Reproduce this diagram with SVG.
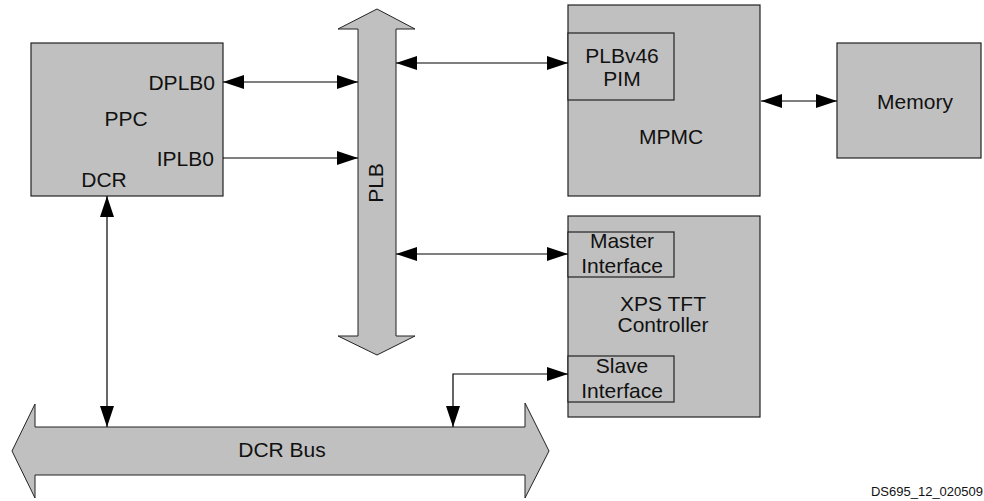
<svg xmlns="http://www.w3.org/2000/svg" width="984" height="501" viewBox="0 0 984 501">
<style>
.box{fill:#c0c0c0;stroke:#222;stroke-width:1.2}
.bus{fill:#c0c0c0;stroke:#222;stroke-width:1}
.t{font-family:"Liberation Sans",Arial,sans-serif;font-size:21px;fill:#111}
.c{text-anchor:middle}
.r{text-anchor:end}
.ln{fill:none;stroke:#000;stroke-width:1.2}
</style>
<defs>
<marker id="ah" markerUnits="userSpaceOnUse" markerWidth="22" markerHeight="14" viewBox="0 0 22 14" refX="21" refY="7" orient="auto-start-reverse">
<path d="M0,0 L21,7 L0,14 Z" fill="#000"/>
</marker>
</defs>
<rect width="984" height="501" fill="#fff"/>
<g id="ppc">
<rect class="box" x="31" y="43" width="192" height="153"/>
<text class="t r" x="215" y="90">DPLB0</text>
<text class="t c" x="126" y="126">PPC</text>
<text class="t r" x="214" y="166">IPLB0</text>
<text class="t c" x="104" y="187">DCR</text>
</g>
<g id="plb">
<path class="bus" d="M377,9 L415,29 L396,29 L396,336 L415,336 L377,355 L338,336 L358,336 L358,29 L338,29 Z"/>
<text class="t c" transform="translate(383,183) rotate(-90)">PLB</text>
</g>
<g id="mpmc">
<rect class="box" x="568" y="5" width="192" height="191"/>
<rect class="box" x="568" y="33" width="106" height="67" fill="none"/>
<text class="t c" x="622" y="63">PLBv46</text>
<text class="t c" x="622" y="86">PIM</text>
<text class="t c" x="671" y="144">MPMC</text>
</g>
<g id="memory">
<rect class="box" x="837" y="43" width="144" height="115"/>
<text class="t c" x="915" y="109">Memory</text>
</g>
<g id="xps">
<rect class="box" x="568" y="216" width="192" height="201"/>
<rect class="box" x="568" y="232" width="106" height="45"/>
<text class="t c" x="622" y="248">Master</text>
<text class="t c" x="622" y="273">Interface</text>
<text class="t c" x="663" y="311">XPS TFT</text>
<text class="t c" x="663" y="332">Controller</text>
<rect class="box" x="568" y="356" width="106" height="46"/>
<text class="t c" x="622" y="373">Slave</text>
<text class="t c" x="622" y="398">Interface</text>
</g>
<g id="dcrbus">
<path class="bus" d="M12,451 L35,404 L35,427 L525,427 L525,403 L549,451 L525,498 L525,475 L35,475 L35,498 Z"/>
<text class="t c" x="282" y="457">DCR Bus</text>
</g>
<g id="connectors">
<line class="ln" x1="223" y1="82" x2="358" y2="82" marker-start="url(#ah)" marker-end="url(#ah)"/>
<line class="ln" x1="223" y1="158" x2="358" y2="158" marker-end="url(#ah)"/>
<line class="ln" x1="396" y1="63" x2="568" y2="63" marker-start="url(#ah)" marker-end="url(#ah)"/>
<line class="ln" x1="761" y1="101" x2="837" y2="101" marker-start="url(#ah)" marker-end="url(#ah)"/>
<line class="ln" x1="396" y1="254" x2="568" y2="254" marker-start="url(#ah)" marker-end="url(#ah)"/>
<polyline class="ln" points="453,427 453,374 568,374" marker-start="url(#ah)" marker-end="url(#ah)"/>
<line class="ln" x1="107" y1="196" x2="107" y2="427" marker-start="url(#ah)" marker-end="url(#ah)"/>
</g>
<text x="983" y="496" text-anchor="end" font-family="Liberation Sans,Arial,sans-serif" font-size="13" fill="#111">DS695_12_020509</text>
</svg>
